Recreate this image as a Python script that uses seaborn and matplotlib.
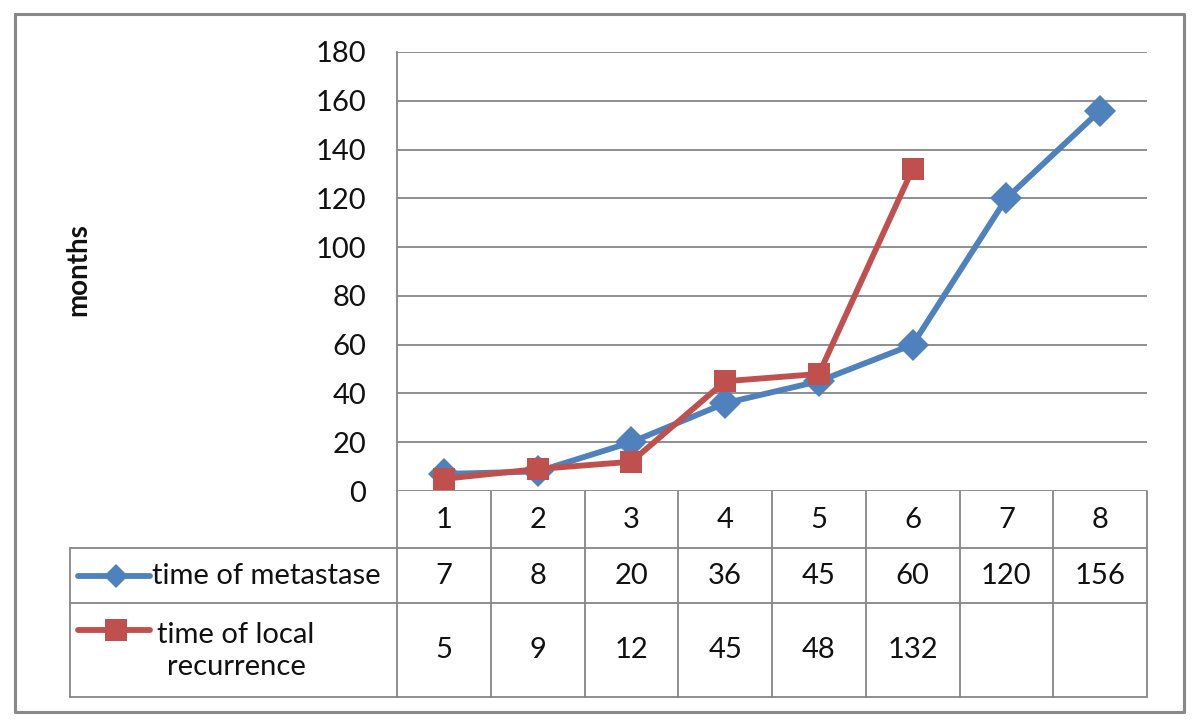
import numpy as np
import pandas as pd
import matplotlib
matplotlib.use("Agg")
import matplotlib.pyplot as plt
import seaborn as sns

# --- data ---
categories = [1, 2, 3, 4, 5, 6, 7, 8]
metastase = [7, 8, 20, 36, 45, 60, 120, 156]
local_rec = [5, 9, 12, 45, 48, 132, None, None]
series_names = ["time of metastase", "time of local\nrecurrence"]
y_ticks = list(range(0, 181, 20))

BLUE = "#4F81BD"
RED = "#C0504D"
GRID = "#868686"

sns.set_theme(style="white")
plt.rcParams['font.family'] = ['Lato', 'DejaVu Sans']

df = pd.DataFrame({
    "pos": list(range(len(categories))) * 2,
    "value": metastase + local_rec,
    "series": [series_names[0]] * len(categories) + [series_names[1]] * len(categories),
}).dropna()

W, H = 1200, 724
fig = plt.figure(figsize=(W / 100, H / 100), dpi=100)

# main plot area (pixel box 397..1147 x 52..491)
left, right, top, bottom = 397, 1147, 52, 491
ax = fig.add_axes([left / W, 1 - bottom / H, (right - left) / W, (bottom - top) / H])

sns.lineplot(data=df, x="pos", y="value", hue="series", style="series",
             palette={series_names[0]: BLUE, series_names[1]: RED},
             markers={series_names[0]: "D", series_names[1]: "s"},
             dashes=False, linewidth=4.2, markersize=16, markeredgewidth=0,
             legend=False, ax=ax)

ax.set_xlim(-0.5, len(categories) - 0.5)
ax.set_ylim(0, 180)
ax.set_yticks(y_ticks)
ax.set_xticks([])
ax.set_xlabel("")
ax.set_ylabel("")
ax.tick_params(axis="y", length=0, pad=22, labelsize=21, colors="#111111")
ax.yaxis.grid(True, color=GRID, linewidth=1.3)
ax.set_axisbelow(True)
for s in ["top", "right", "bottom"]:
    ax.spines[s].set_visible(False)
ax.spines["left"].set_color(GRID)
ax.spines["left"].set_linewidth(1.3)

# overlay in pixel coordinates for the data table and frame
ov = fig.add_axes([0, 0, 1, 1], zorder=-1)
ov.set_xlim(0, W)
ov.set_ylim(H, 0)
ov.axis("off")

# outer frame
ov.plot([15, 1184, 1184, 15, 15], [14, 14, 712, 712, 14], color="#888888", lw=2.2)

tab_left = 70
row_y = [491, 548, 603, 697]
col_w = (right - left) / len(categories)
lc = dict(color=GRID, lw=1.3)
# horizontal lines
for y in row_y[1:]:
    ov.plot([tab_left, right], [y, y], **lc)
# vertical lines
for i in range(len(categories) + 1):
    ov.plot([left + i * col_w] * 2, [row_y[0], row_y[3]], **lc)
ov.plot([tab_left, tab_left], [row_y[1], row_y[3]], **lc)

fs = 21
tc = "#111111"
for i, c in enumerate(categories):
    cx = left + (i + 0.5) * col_w
    ov.text(cx, (row_y[0] + row_y[1]) / 2, str(c), ha="center", va="center", fontsize=fs, color=tc)
    ov.text(cx, (row_y[1] + row_y[2]) / 2, str(metastase[i]), ha="center", va="center", fontsize=fs, color=tc)
    if local_rec[i] is not None:
        ov.text(cx, (row_y[2] + row_y[3]) / 2, str(local_rec[i]), ha="center", va="center", fontsize=fs, color=tc)

# legend keys inside the table
k1 = (row_y[1] + row_y[2]) / 2
ov.plot([78, 150], [k1, k1], color=BLUE, lw=4.2)
ov.plot([116], [k1], marker="D", color=BLUE, markersize=12, markeredgewidth=0)
ov.text(152, k1, series_names[0], ha="left", va="center", fontsize=fs, color=tc)

k2 = 630
ov.plot([78, 150], [k2, k2], color=RED, lw=4.2)
ov.plot([116], [k2], marker="s", color=RED, markersize=16, markeredgewidth=0)
ov.text(236, (row_y[2] + row_y[3]) / 2 + 1, series_names[1], ha="center", va="center",
        fontsize=fs, color=tc, linespacing=1.25)

# y label
fig.text(78 / W, 1 - 270 / H, "months", rotation=90, ha="center", va="center",
         fontsize=20, fontweight="bold", color="#111111")

fig.savefig("out.png", dpi=100)
